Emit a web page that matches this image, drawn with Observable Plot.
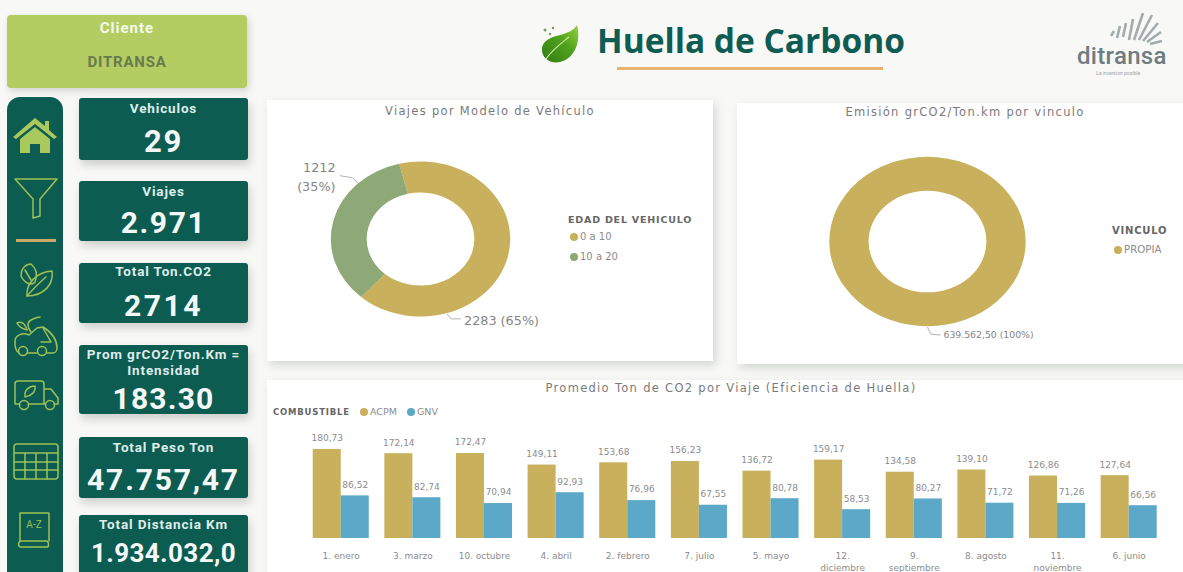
<!DOCTYPE html>
<html lang="es"><head><meta charset="utf-8">
<script src="https://cdn.jsdelivr.net/npm/d3@7"></script>
<script src="https://cdn.jsdelivr.net/npm/@observablehq/plot@0.6"></script>
<style>
html,body{margin:0;padding:0;width:1183px;height:572px;overflow:hidden;background:#f8f8f7;}
#page{position:relative;width:1183px;height:572px;overflow:hidden;font-family:Roboto,sans-serif;}
.abs{position:absolute;box-sizing:border-box;}
.card{background:#fff;box-shadow:3px 4px 8px rgba(120,135,120,.28);}
.kpi{background:#0c5c52;border-radius:3px;box-shadow:2px 5px 9px rgba(110,120,110,.3);color:#fff;text-align:center;}
.kpi .l{position:absolute;left:-6px;right:-6px;font-size:13.5px;font-weight:700;letter-spacing:.85px;line-height:16px;color:#dfecea;white-space:nowrap;}
.kpi .v{position:absolute;left:-10px;right:-10px;font-weight:700;line-height:1;color:#f4f8f7;}
.ct{position:absolute;text-align:center;font-family:"DejaVu Sans",sans-serif;font-size:11.5px;color:#7a7a7a;letter-spacing:1.3px;white-space:nowrap;}
.lg{position:absolute;font-family:"DejaVu Sans",sans-serif;color:#8b8b8b;white-space:nowrap;line-height:12px;}
.lg b{color:#666;letter-spacing:.8px;}
.dot{position:absolute;width:8px;height:8px;border-radius:50%;}
svg{overflow:visible;}
.plotbox{position:absolute;}
</style></head><body><div id="page"></div>
<script>
// ---- data ----
const kpiLabels = ["Vehiculos","Viajes","Total Ton.CO2","Prom grCO2/Ton.Km =\nIntensidad","Total Peso Ton","Total Distancia Km"];
const kpiValues = ["29","2.971","2714","183.30","47.757,47","1.934.032,0"];
const edadCats = ["0 a 10","10 a 20"];
const edadVals = [2283,1212];
const edadLabels = ["2283 (65%)","1212\n(35%)"];
const vincCats = ["PROPIA"];
const vincVals = [639562.50];
const vincLabels = ["639.562,50 (100%)"];
const meses = ["1. enero","3. marzo","10. octubre","4. abril","2. febrero","7. julio","5. mayo","12. diciembre","9. septiembre","8. agosto","11. noviembre","6. junio"];
const combustibles = ["ACPM","GNV"];
const acpm = [180.73,172.14,172.47,149.11,153.68,156.23,136.72,159.17,134.58,139.10,126.86,127.64];
const gnv = [86.52,82.74,70.94,92.93,76.96,67.55,80.78,58.53,80.27,71.72,71.26,66.56];

// ---- styles ----
const GOLD="#c9b05c", GREEN="#8fa877", BLUE="#5ba8c8", TEAL="#0c5c52", LIME="#a9c95c";
const page=document.getElementById("page");
function el(cls,css,html){const e=document.createElement("div");e.className=cls;e.style.cssText=css;if(html!==undefined)e.innerHTML=html;page.appendChild(e);return e;}

// header
el("abs",`left:7px;top:15px;width:240px;height:73px;background:#b3cd62;border-radius:4px;box-shadow:2px 3px 7px rgba(120,130,110,.3)`);
el("abs",`left:7px;top:19px;width:240px;text-align:center;color:#f6f9ea;font-size:15px;letter-spacing:1px;font-weight:700`,"Cliente");
el("abs",`left:7px;top:53px;width:240px;text-align:center;color:#6a7a4c;font-size:15px;letter-spacing:.8px;font-weight:700`,"DITRANSA");
el("abs",`left:597px;top:19px;font-family:'Open Sans',sans-serif;font-weight:700;font-size:33.5px;line-height:42px;color:#0f5c52;white-space:nowrap`,"Huella de Carbono");
el("abs",`left:617px;top:67px;width:266px;height:2.5px;background:#e9b273`);
el("abs",`left:538px;top:22px;width:42px;height:42px`,`<svg width="42" height="42" viewBox="0 0 42 42"><defs><linearGradient id="lf" x1="0" y1="1" x2="1" y2="0"><stop offset="0" stop-color="#2f7d12"/><stop offset=".55" stop-color="#4ea01d"/><stop offset="1" stop-color="#9ad03a"/></linearGradient></defs><path d="M39 3C43 18 38 36 22 40C12 42 4 36 4 28C4 18 14 15 22 13C30 11 36 8 39 3Z" fill="url(#lf)"/><path d="M8 37C14 28 21 23 31 15" stroke="#cfe9a0" stroke-width="1.2" fill="none"/><circle cx="7" cy="8" r="1.5" fill="#7a9a66"/><circle cx="12" cy="12" r="1.2" fill="#7a9a66"/><circle cx="15" cy="6" r="1.2" fill="#7a9a66"/></svg>`);
el("abs",`left:1106px;top:10px;width:62px;height:38px`,`<svg width="62" height="38" viewBox="0 0 62 38" fill="none" stroke="#a3abad" stroke-width="2.6"><path d="M5 26L8 21M11 28L14 16M17 27L20 13M23 30L27 9M28 30L37 3M33 30L46 5M37 31L52 13M41 32L55 22M44 34L56 31"/></svg>`);
el("abs",`left:1077px;top:44px;font-family:Roboto,sans-serif;font-size:24px;font-weight:500;line-height:24px;color:#6e7c82;letter-spacing:.3px;white-space:nowrap`,"ditransa");
el("abs",`left:1096px;top:70px;font-family:Roboto,sans-serif;font-size:5px;line-height:6px;color:#a0a6a8;white-space:nowrap`,"La inversion posible");

// left nav
el("abs",`left:7px;top:97px;width:56px;height:490px;background:${TEAL};border-radius:13px`);
const ic=`fill="none" stroke="#9dc156" stroke-width="1.5" stroke-linejoin="round" stroke-linecap="round"`;
const icons=[
 [12,115,46,40,`<path d="M1 22L23 3L33 11V6H37V15L45 22L42 24L23 9L4 24Z" fill="${LIME}"/><path d="M8 24L23 12L38 24V38H28V29H18V38H8Z" fill="${LIME}"/>`],
 [13,177,46,43,`<g ${ic} stroke-width="2"><path d="M2 2H44L27 22V39L20 41V22Z"/></g>`],
 [18,262,36,36,`<g ${ic}><path d="M3 14C3 6 8 2 13 2C18 6 20 12 17 20C14 24 7 22 3 14Z"/><path d="M9 34C8 22 18 10 34 9C36 22 26 34 9 34Z"/><path d="M9 34C16 26 22 20 28 15M7 8L13 18"/></g>`],
 [13,315,46,41,`<g ${ic}><path d="M2 28C1 20 10 17 16 20L24 13L30 12C38 17 44 24 44 33C44 36 42 38 40 38H34M24 38H14M2 28C2 33 3 36 6 38"/><circle cx="10" cy="36" r="4.5"/><circle cx="29" cy="36" r="4.5"/><path d="M18 17C14 12 14 7 18 5C24 2 27 2 27 2M14 15C10 14 6 12 4 8C8 6 12 8 14 15M30 13L38 27L28 27"/></g>`],
 [13,380,46,31,`<g ${ic}><path d="M2 24V4C2 2 3 1 5 1H28C30 1 31 2 31 4V24M31 9H38L45 18V24M2 24H6M16 24H32M41 24H45"/><circle cx="11" cy="25" r="4.5"/><circle cx="37" cy="25" r="4.5"/><path d="M12 17C11 10 16 6 22 6C23 12 18 16 12 17Z"/></g>`],
 [13,443,46,37,`<g ${ic}><rect x="1" y="1" width="44" height="35" rx="3"/><path d="M1 10H45M1 19H45M1 27H45M12 10V36M23 10V36M34 10V36"/></g>`],
 [16,511,36,38,`<g ${ic}><path d="M4 30V2H33V30"/><path d="M4 30C2 32 2 36 5 36H31C33 36 33 31 31 30H4"/><text x="18" y="17" stroke="none" fill="#9dc156" font-size="10" font-family="Roboto" text-anchor="middle">A-Z</text></g>`]
];
for(const [x,y,w,h,s] of icons) el("abs",`left:${x}px;top:${y}px;width:${w}px;height:${h}px`,`<svg width="${w}" height="${h}">${s}</svg>`);
el("abs",`left:16px;top:239px;width:40px;height:2.5px;background:#c9a968`);

// KPI cards
const kpiBoxes=[
 {top:98,h:62,lt:2,vt:28,fs:31,ls:1.8},
 {top:181,h:60,lt:2,vt:27,fs:30,ls:1.6},
 {top:263,h:60,lt:0,vt:28,fs:30,ls:2.6},
 {top:345,h:69,lt:1,vt:39,fs:30,ls:1.2},
 {top:437,h:61,lt:2,vt:28,fs:30,ls:1.8},
 {top:515,h:70,lt:1,vt:25,fs:26,ls:.4}];
kpiLabels.forEach((t,i)=>{const b=kpiBoxes[i];
 el("abs kpi",`left:79px;top:${b.top}px;width:169px;height:${b.h}px`,
  `<div class="l" style="top:${b.lt}px">${t.replace("\n","<br>")}</div><div class="v" style="top:${b.vt}px;font-size:${b.fs}px;letter-spacing:${b.ls}px">${kpiValues[i]}</div>`);
});

// chart cards
el("abs card",`left:267px;top:100px;width:446px;height:261px`);
el("abs card",`left:737px;top:103px;width:460px;height:261px`);
el("abs card",`left:267px;top:380px;width:930px;height:200px`);
el("ct",`left:267px;width:446px;top:104px`,"Viajes por Modelo de Vehículo");
el("ct",`left:737px;width:456px;top:105px`,"Emisión grCO2/Ton.km por vinculo");
el("ct",`left:267px;width:928px;top:381px`,"Promedio Ton de CO2 por Viaje (Eficiencia de Huella)");

// legends
function legend(title,titleX,titleY,titleFs,itemFs,items,colors){
 el("lg",`left:${titleX}px;top:${titleY}px;font-size:${titleFs}px`,`<b>${title}</b>`);
 items.forEach((t,i)=>{
   el("dot",`left:${t.x}px;top:${t.y+2}px;background:${colors[i]}`);
   el("lg",`left:${t.x+10.5}px;top:${t.y}px;font-size:${itemFs}px`,t.name);
 });
}
legend("EDAD DEL VEHICULO",568,214,9.5,10,edadCats.map((name,i)=>({name,x:569.5,y:231+i*20})),[GOLD,GREEN]);
legend("VINCULO",1112,225,10,10.2,vincCats.map(name=>({name,x:1113.5,y:244})),[GOLD]);
legend("COMBUSTIBLE",273,406,8.5,9.5,combustibles.map((name,i)=>({name,x:[359.5,406.5][i],y:406})),[GOLD,BLUE]);

// donut via Plot function mark
function donut({left,top,width,height,cats,vals,labels,colors,rx,ry,inner,startDeg,leaders,fontSize}){
 const cx=width/2, cy=height/2;
 const mark=()=>{
  const g=d3.create("svg:g");
  const pie=d3.pie().sort(null).startAngle(startDeg*Math.PI/180).endAngle((startDeg+360)*Math.PI/180)(vals);
  const arc=d3.arc().innerRadius(inner).outerRadius(1);
  g.append("g").attr("transform",`translate(${cx},${cy}) scale(${rx},${ry})`)
   .selectAll("path").data(pie).join("path").attr("d",arc).attr("fill",(d,i)=>colors[i]);
  vals.forEach((v,i)=>{
   const L=leaders[i], a=L.deg*Math.PI/180;
   const px=cx+rx*1.01*Math.sin(a), py=cy-ry*1.01*Math.cos(a);
   g.append("path").attr("d",`M${px},${py}l${L.d1[0]},${L.d1[1]}l${L.d2[0]},${L.d2[1]}`).attr("fill","none").attr("stroke","#b5b5b5");
   g.append("text").attr("x",px+L.d1[0]+L.d2[0]+L.tx).attr("y",py+L.d1[1]+L.d2[1]+L.ty).attr("text-anchor",L.anchor)
    .attr("font-family","DejaVu Sans").attr("font-size",fontSize).attr("fill","#858585")
    .selectAll("tspan").data(labels[i].split("\n")).join("tspan")
    .attr("x",px+L.d1[0]+L.d2[0]+L.tx).attr("dy",(d,j)=>j?"1.5em":0).text(d=>d);
  });
  return g.node();
 };
 const p=Plot.plot({width,height,margin:0,style:{background:"transparent",overflow:"visible"},marks:[mark]});
 const box=el("plotbox",`left:${left}px;top:${top}px`);box.appendChild(p);
}
donut({left:267,top:100,width:307,height:278,cats:edadCats,vals:edadVals,labels:edadLabels,colors:[GOLD,GREEN],
 rx:89.7,ry:77.5,inner:.6,startDeg:-13.7,fontSize:12.8,
 leaders:[{deg:163,d1:[4,5],d2:[10,0],tx:3,ty:6,anchor:"start"},{deg:316,d1:[-5,-5],d2:[-13,-2],tx:-4,ty:-4,anchor:"end"}]});
donut({left:737,top:103,width:381,height:277,cats:vincCats,vals:vincVals,labels:vincLabels,colors:[GOLD],
 rx:98.2,ry:84.7,inner:.6,startDeg:0,fontSize:9.3,
 leaders:[{deg:180,d1:[3,7],d2:[10,1],tx:3,ty:3,anchor:"start"}]});

// bars
const fmt=v=>v.toFixed(2).replace(".",",");
const barData=meses.flatMap((m,i)=>[{mes:m,comb:combustibles[0],v:acpm[i]},{mes:m,comb:combustibles[1],v:gnv[i]}]);
const bars=Plot.plot({
 width:1183,height:192,marginLeft:312.7,marginRight:26.3,marginBottom:34,marginTop:59.5,
 style:{background:"transparent",overflow:"visible"},
 fx:{domain:meses,paddingInner:.2175,paddingOuter:0,round:false,label:null},
 x:{domain:combustibles,axis:null,padding:0,round:false},
 y:{domain:[0,200],axis:null},
 color:{domain:combustibles,range:[GOLD,BLUE]},
 marks:[
  Plot.barY(barData,{fx:"mes",x:"comb",y:"v",fill:"comb"}),
  Plot.text(barData,{fx:"mes",x:"comb",y:"v",text:d=>fmt(d.v),dy:-11,fontSize:9,fontFamily:"DejaVu Sans",fill:"#8c8c8c"}),
  Plot.axisFx({anchor:"bottom",label:null,tickSize:0,tickPadding:12,fontSize:9,fontFamily:"DejaVu Sans",fill:"#8c8c8c",lineHeight:1.3,
    tickFormat:d=>d.length>11?d.replace(" ","\n"):d})
 ]});
const bb=el("plotbox",`left:0;top:380px`);bb.appendChild(bars);
</script></body></html>
